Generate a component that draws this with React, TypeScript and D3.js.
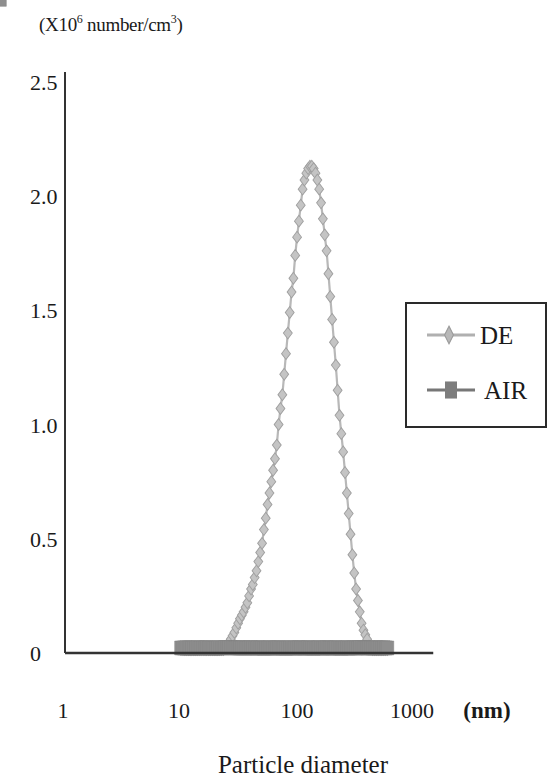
import React from "react";
import * as d3 from "d3";

// SMPS channel midpoints (nm), 64 channels/decade
const diameters: number[] = [
  10.2, 10.6, 10.9, 11.3, 11.8, 12.2, 12.6, 13.1, 13.6, 14.1, 14.6, 15.1, 15.7, 16.3, 16.8, 17.5,
  18.1, 18.8, 19.5, 20.2, 20.9, 21.7, 22.5, 23.3, 24.1, 25.0, 25.9, 26.9, 27.9, 28.9, 30.0, 31.1,
  32.2, 33.4, 34.6, 35.9, 37.2, 38.5, 40.0, 41.4, 42.9, 44.5, 46.1, 47.8, 49.6, 51.4, 53.3, 55.2,
  57.3, 59.4, 61.5, 63.8, 66.1, 68.5, 71.0, 73.7, 76.4, 79.1, 82.0, 85.1, 88.2, 91.4, 94.7, 98.2,
  101.8, 105.5, 109.4, 113.4, 117.6, 121.9, 126.3, 131.0, 135.8, 140.7, 145.9, 151.2, 156.8, 162.5,
  168.5, 174.7, 181.1, 187.7, 194.6, 201.7, 209.1, 216.7, 224.7, 232.9, 241.4, 250.3, 259.5, 269.0,
  278.8, 289.0, 299.6, 310.6, 322.0, 333.8, 346.0, 358.7, 371.8, 385.4, 399.5, 414.2, 429.4, 445.1,
  461.4, 478.3, 495.8, 514.0, 532.8, 552.3, 572.5, 593.5,
];

// DE number concentration (x10^6 /cm3)
const deValues: number[] = [
  0.015, 0.015, 0.015, 0.015, 0.015, 0.015, 0.015, 0.015, 0.015, 0.015, 0.015, 0.015, 0.015, 0.015, 0.015, 0.015,
  0.015, 0.015, 0.015, 0.015, 0.015, 0.015, 0.015, 0.015, 0.02, 0.03, 0.045, 0.06, 0.075, 0.09, 0.11, 0.13,
  0.15, 0.165, 0.18, 0.2, 0.22, 0.25, 0.28, 0.3, 0.33, 0.36, 0.4, 0.44, 0.48, 0.54, 0.59, 0.65,
  0.7, 0.75, 0.8, 0.85, 0.91, 1.0, 1.07, 1.13, 1.22, 1.31, 1.4, 1.49, 1.58, 1.64, 1.74, 1.82,
  1.89, 1.96, 2.03, 2.07, 2.1, 2.12, 2.13, 2.13, 2.12, 2.1, 2.07, 2.03, 1.97, 1.9,
  1.83, 1.76, 1.66, 1.56, 1.46, 1.36, 1.26, 1.15, 1.04, 0.96, 0.88, 0.79, 0.7, 0.61,
  0.52, 0.43, 0.35, 0.28, 0.23, 0.18, 0.13, 0.1, 0.08, 0.06, 0.03, 0.02, 0.015, 0.015,
  0.015, 0.015, 0.015, 0.015, 0.015, 0.015, 0.015,
];

// AIR number concentration (x10^6 /cm3)
const airValues: number[] = [
  0.022, 0.022, 0.022, 0.023, 0.022, 0.022, 0.021, 0.022, 0.022, 0.023, 0.022, 0.022, 0.022, 0.022, 0.023, 0.022,
  0.022, 0.022, 0.021, 0.022, 0.022, 0.023, 0.022, 0.022, 0.024, 0.024, 0.023, 0.024, 0.023, 0.022, 0.022, 0.023,
  0.022, 0.022, 0.023, 0.022, 0.022, 0.022, 0.023, 0.022, 0.022, 0.022, 0.023, 0.022, 0.022, 0.021, 0.022, 0.022,
  0.023, 0.022, 0.022, 0.022, 0.022, 0.023, 0.022, 0.022, 0.022, 0.021, 0.022, 0.022, 0.023, 0.022, 0.022, 0.022,
  0.023, 0.022, 0.022, 0.022, 0.022, 0.023, 0.022, 0.022, 0.021, 0.022, 0.022, 0.023, 0.022, 0.022,
  0.022, 0.023, 0.022, 0.022, 0.022, 0.022, 0.023, 0.022, 0.022, 0.021, 0.022, 0.022, 0.023, 0.022,
  0.022, 0.022, 0.023, 0.022, 0.022, 0.024, 0.024, 0.023, 0.022, 0.022, 0.023, 0.022, 0.022, 0.022,
  0.023, 0.022, 0.022, 0.022, 0.023, 0.022, 0.022,
];

const xTicks: number[] = [1, 10, 100, 1000];
const xTickLabels: string[] = ["1", "10", "100", "1000"];
const yTicks: number[] = [0, 0.5, 1.0, 1.5, 2.0, 2.5];
const yTickLabels: string[] = ["0", "0.5", "1.0", "1.5", "2.0", "2.5"];
const seriesNames: string[] = ["DE", "AIR"];

const W = 548;
const H = 780;
const FONT = "'Liberation Serif', 'Times New Roman', serif";

export default function App() {
  const x = d3.scaleLog().domain([1, 1000]).range([62, 416]);
  const y = d3.scaleLinear().domain([0, 2.5]).range([653, 81.75]);

  const de = diameters.map((d, i) => ({ d, v: deValues[i] }));
  const air = diameters.map((d, i) => ({ d, v: airValues[i] }));

  const line = d3
    .line<{ d: number; v: number }>()
    .x((p) => x(p.d))
    .y((p) => y(p.v));

  const diamond = d3.symbol(d3.symbolDiamond, 40)()!;
  const square = d3.symbol(d3.symbolSquare, 160)()!;

  const axisX0 = 65;
  const axisXEnd = x(1400);
  const axisY0 = y(0);
  const labelOffsets: number[] = [1, -1, -1, -4];

  return (
    <svg
      width={W}
      height={H}
      style={{ position: "absolute", left: 0, top: 0, background: "#fff" }}
      fontFamily={FONT}
    >
      <rect x={0} y={0} width={W} height={H} fill="#ffffff" />

      {/* unit label */}
      <text x={39} y={31} fontSize={19} fill="#1a1a1a" letterSpacing={-0.3}>
        (X10
        <tspan dy={-8} fontSize={12}>6</tspan>
        <tspan dy={8}> number/cm</tspan>
        <tspan dy={-8} fontSize={12}>3</tspan>
        <tspan dy={8}>)</tspan>
      </text>

      {/* y tick labels */}
      {yTicks.map((t, i) => (
        <text key={"yt" + i} x={30} y={y(t) + 8} fontSize={22} fill="#1a1a1a">
          {yTickLabels[i]}
        </text>
      ))}

      {/* x tick labels */}
      {xTicks.map((t, i) => (
        <text key={"xt" + i} x={x(t) + labelOffsets[i]} y={718} fontSize={22} fill="#1a1a1a" textAnchor="middle">
          {xTickLabels[i]}
        </text>
      ))}
      <text x={487} y={718} fontSize={23} fontWeight="bold" fill="#1a1a1a" textAnchor="middle">
        (nm)
      </text>
      <text x={303} y={773} fontSize={25} fill="#1a1a1a" textAnchor="middle">
        Particle diameter
      </text>

      {/* DE series */}
      <path d={line(de) || ""} fill="none" stroke="#b8b8b8" strokeWidth={2.2} />
      {de.map((p, i) => (
        <path
          key={"de" + i}
          d={diamond}
          transform={`translate(${x(p.d)},${y(p.v)}) scale(1.3,1)`}
          fill="#c4c4c4"
          stroke="#a0a0a0"
          strokeWidth={0.8}
        />
      ))}

      {/* AIR series */}
      <path d={line(air) || ""} fill="none" stroke="#7a7a7a" strokeWidth={2} />
      {air.map((p, i) => (
        <path
          key={"air" + i}
          d={square}
          transform={`translate(${x(p.d)},${y(p.v)}) scale(1,1.1)`}
          fill="#8e8e8e"
          stroke="#858585"
          strokeWidth={0.5}
        />
      ))}

      {/* axes */}
      <line x1={axisX0} y1={72} x2={axisX0} y2={axisY0} stroke="#333" strokeWidth={2} />
      <line x1={axisX0} y1={axisY0} x2={axisXEnd} y2={axisY0} stroke="#333" strokeWidth={2.5} />

      {/* legend */}
      <rect x={406} y={303} width={140} height={124} fill="#fff" stroke="#2a2a2a" strokeWidth={2} />
      <line x1={427} y1={335} x2={475} y2={335} stroke="#b0b0b0" strokeWidth={3} />
      <path d={diamond} transform="translate(449,335) scale(1.3,1.5)" fill="#b8b8b8" stroke="#999" strokeWidth={0.8} />
      <text x={480} y={344} fontSize={25} fill="#1a1a1a">{seriesNames[0]}</text>
      <line x1={427} y1={390} x2={475} y2={390} stroke="#777" strokeWidth={3} />
      <path d={square} transform="translate(451,390) scale(0.95,1.35)" fill="#7d7d7d" />
      <text x={484} y={399} fontSize={25} fill="#1a1a1a">{seriesNames[1]}</text>
    </svg>
  );
}
